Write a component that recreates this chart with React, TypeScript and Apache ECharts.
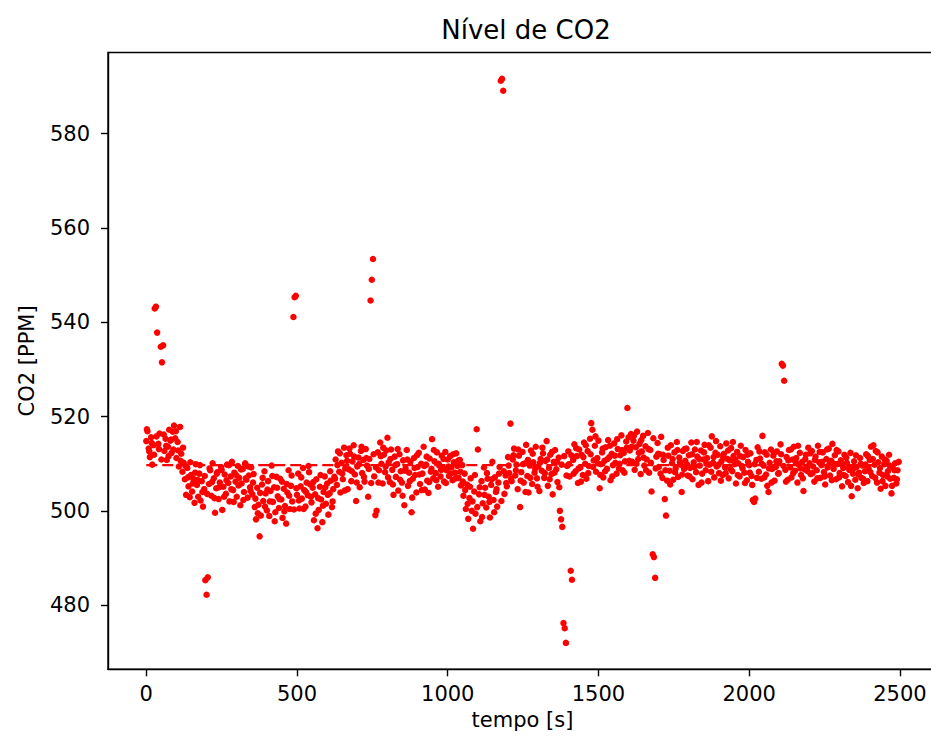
import React, { useEffect, useRef } from "react";
import * as echarts from "echarts";

const chartTitle = "Nível de CO2";
const xAxisTitle = "tempo [s]";
const yAxisTitle = "CO2 [PPM]";
const xTickValues = [0, 500, 1000, 1500, 2000, 2500];
const yTickValues = [480, 500, 520, 540, 560, 580];
const meanLevel = 509.7;
const meanSpan = [0, 2496];

const readings0to496 = [
  [0,514.8],[4,516.9],[8,513.2],[12,511.4],[16,515.6],[20,509.8],[24,513.9],[28,542.9],[32,543.3],[36,537.8],[40,514.2],[44,516.4],[48,534.8],[52,531.5],[56,535.1],[60,512.7],[64,515.3],[68,510.8],[72,513.6],[76,517.2],[80,514.9],[84,512.3],[88,516.8],[92,518.1],[96,515.4],
  [100,511.2],[104,514.6],[108,509.4],[112,517.8],[116,512.1],[120,508.3],[124,510.2],[128,506.7],[132,503.4],[136,509.1],[140,505.2],[144,502.9],[148,507.6],[152,504.1],[156,506.8],[160,501.7],[164,509.9],[168,505.5],[172,503.0],[176,507.9],[180,502.2],[184,506.3],[188,500.9],[192,504.6],[196,485.3],[200,482.2],[204,485.9],[208,505.7],
  [212,508.6],[216,503.2],[220,510.1],[224,506.9],[228,499.6],[232,504.8],[236,508.2],[240,502.5],[244,506.0],[248,509.3],[252,500.2],[256,505.1],[260,507.7],[264,503.6],[268,509.8],[272,505.9],[276,502.0],[280,507.3],[284,510.4],[288,504.4],[292,508.1],[296,506.2],[300,503.0],[304,509.5],[308,507.0],[312,501.2],[316,505.8],[320,508.9],[324,504.0],[328,510.1],[332,506.6],[336,502.8],[340,507.5],[344,505.0],[348,509.2],
  [352,503.5],[356,507.8],[360,500.8],[364,498.2],[368,504.9],[372,501.3],[376,494.6],[380,499.0],[384,505.6],[388,502.1],[392,508.4],[396,503.7],[400,500.1],[404,506.3],[408,498.9],[412,504.2],[416,509.6],[420,501.9],[424,505.0],[428,499.7],[432,507.2],[436,503.1],[440,500.6],[444,506.8],[448,502.4],[452,498.5],[456,504.7],[460,501.0],[464,497.3],[468,503.9],[472,508.6],[476,500.4],[480,505.3],[484,502.0],[488,541.1],[492,545.3],[496,545.6]
];

const readings500to1048 = [
  [500,503.4],[504,507.9],[508,500.5],[512,505.2],[516,502.6],[520,509.1],[524,504.4],[528,500.9],[532,506.0],[536,503.3],[540,508.2],[544,505.6],[548,501.8],[552,504.9],[556,498.0],[560,503.5],[564,506.7],[568,496.3],[572,500.2],[576,505.1],[580,502.4],[584,497.6],[588,504.0],[592,507.3],[596,501.5],[600,505.8],[604,499.2],[608,503.7],[612,506.4],[616,500.8],[620,504.6],
  [624,507.2],[628,510.9],[632,505.5],[636,512.6],[640,508.3],[644,503.9],[648,510.2],[652,506.7],[656,513.4],[660,509.0],[664,511.8],[668,504.6],[672,508.8],[676,512.1],[680,506.3],[684,510.5],[688,513.9],[692,507.7],[696,502.1],[700,509.4],[704,511.3],[708,505.0],[712,512.7],[716,508.0],[720,510.8],[724,506.2],[728,513.1],[732,509.6],[736,503.0],[740,511.0],[744,544.6],[748,549.0],[752,553.4],[756,507.3],[760,499.1],[764,500.0],[768,512.4],[772,508.6],[776,514.5],[780,510.0],[784,505.8],[788,511.9],[792,508.2],[796,512.8],[800,515.5],
  [804,510.3],[808,506.1],[812,513.0],[816,508.7],[820,503.4],[824,511.5],[828,507.2],[832,509.9],[836,504.3],[840,512.0],[844,508.4],[848,506.0],[852,510.7],[856,501.2],[860,509.0],[864,512.9],[868,505.3],[872,508.1],[876,510.4],[880,499.7],[884,506.8],[888,511.2],[892,507.6],[896,503.9],[900,509.3],[904,512.3],[908,505.7],[912,510.0],[916,507.9],[920,513.6],[924,504.5],[928,509.8],[932,506.4],[936,503.8],[940,511.1],[944,508.3],[948,515.2],[952,506.9],[956,510.5],[960,508.0],[964,512.4],[968,505.1],[972,509.6],[976,507.3],[980,511.7],[984,509.0],[988,506.2],[992,512.5],[996,508.6],
  [1000,510.9],[1004,507.4],[1008,511.6],[1012,509.2],[1016,506.5],[1020,510.3],[1024,508.1],[1028,512.2],[1032,509.5],[1036,507.0],[1040,510.8],[1044,505.4],[1048,509.7]
];

const readings1052to1596 = [
  [1052,503.2],[1056,507.9],[1060,500.4],[1064,505.6],[1068,498.3],[1072,502.7],[1076,506.9],[1080,500.0],[1084,496.2],[1088,504.1],[1092,499.4],[1096,517.3],[1100,513.0],[1104,503.5],[1108,497.8],[1112,506.3],[1116,501.6],[1120,509.2],[1124,504.9],[1128,500.7],[1132,506.8],[1136,503.0],[1140,498.6],[1144,505.5],[1148,510.4],[1152,502.3],[1156,507.1],[1160,504.0],[1164,500.9],[1168,506.0],[1172,509.3],[1176,591.2],[1180,591.6],[1184,589.1],[1188,503.6],[1192,507.5],[1196,505.2],
  [1200,511.4],[1204,508.0],[1208,518.5],[1212,506.3],[1216,510.9],[1220,513.2],[1224,507.5],[1228,509.8],[1232,504.6],[1236,511.7],[1240,500.8],[1244,508.2],[1248,512.5],[1252,506.0],[1256,510.1],[1260,514.0],[1264,507.4],[1268,503.9],[1272,509.6],[1276,512.8],[1280,505.7],[1284,510.3],[1288,508.1],[1292,513.6],[1296,506.9],[1300,509.4],[1304,504.2],[1308,511.0],[1312,508.5],[1316,512.2],[1320,507.0],[1324,510.6],[1328,514.8],[1332,505.3],[1336,509.1],[1340,511.9],[1344,507.8],[1348,503.5],[1352,510.4],[1356,512.9],[1360,508.8],[1364,506.1],[1368,511.3],[1372,500.0],[1376,498.2],[1380,496.6],[1384,476.2],[1388,475.1],[1392,472.0],[1396,509.5],
  [1400,512.6],[1404,507.3],[1408,487.3],[1412,485.4],[1416,510.8],[1420,514.1],[1424,508.4],[1428,511.6],[1432,505.9],[1436,513.0],[1440,509.2],[1444,511.9],[1448,507.6],[1452,514.5],[1456,510.0],[1460,506.8],[1464,512.7],[1468,509.5],[1472,515.3],[1476,518.6],[1480,517.2],[1484,510.7],[1488,513.8],[1492,508.3],[1496,511.2],[1500,514.9],[1504,504.8],[1508,509.9],[1512,512.4],[1516,507.1],[1520,510.6],[1524,513.5],[1528,508.9],[1532,515.0],[1536,511.4],[1540,506.5],[1544,512.1],[1548,509.7],[1552,514.3],[1556,510.2],[1560,507.9],[1564,513.1],[1568,509.0],[1572,511.8],[1576,516.0],[1580,508.6],[1584,512.3],[1588,510.5],[1592,514.7],[1596,521.8]
];

const readings1600to1996 = [
  [1600,515.6],[1604,512.8],[1608,516.3],[1612,510.4],[1616,514.9],[1620,508.7],[1624,513.5],[1628,516.8],[1632,511.0],[1636,514.2],[1640,507.8],[1644,512.6],[1648,515.9],[1652,509.6],[1656,513.7],[1660,510.9],[1664,516.5],[1668,508.1],[1672,512.9],[1676,504.1],[1680,490.8],[1684,490.2],[1688,485.8],[1692,511.5],[1696,514.4],
  [1700,509.3],[1704,512.0],[1708,515.7],[1712,507.0],[1716,510.8],[1720,502.5],[1724,499.0],[1728,506.4],[1732,511.7],[1736,508.5],[1740,513.9],[1744,510.1],[1748,506.6],[1752,512.4],[1756,509.0],[1760,514.6],[1764,507.2],[1768,511.3],[1772,509.8],[1776,504.0],[1780,512.7],[1784,508.9],[1788,510.6],[1792,513.2],[1796,507.5],
  [1800,511.8],[1804,509.1],[1808,514.5],[1812,506.7],[1816,510.3],[1820,513.0],[1824,508.2],[1828,511.5],[1832,505.5],[1836,509.6],[1840,512.8],[1844,507.9],[1848,510.9],[1852,514.0],[1856,508.6],[1860,511.2],[1864,506.3],[1868,509.8],[1872,513.4],[1876,515.8],[1880,510.2],[1884,507.1],[1888,512.3],[1892,509.4],[1896,511.9],
  [1900,508.0],[1904,513.7],[1908,510.5],[1912,507.6],[1916,512.1],[1920,509.2],[1924,514.3],[1928,511.0],[1932,506.9],[1936,510.7],[1940,513.3],[1944,508.4],[1948,511.6],[1952,509.9],[1956,505.8],[1960,512.5],[1964,510.1],[1968,507.3],[1972,513.8],[1976,509.5],[1980,511.4],[1984,508.1],[1988,512.9],[1992,506.5],[1996,510.4]
];

const readings2000to2496 = [
  [2000,509.7],[2004,512.2],[2008,507.4],[2012,502.3],[2016,501.9],[2020,502.6],[2024,510.8],[2028,513.5],[2032,508.3],[2036,511.1],[2040,506.8],[2044,515.9],[2048,509.6],[2052,512.4],[2056,507.7],[2060,505.3],[2064,504.0],[2068,510.2],[2072,513.0],[2076,508.9],[2080,511.7],[2084,506.4],[2088,509.3],[2092,512.6],[2096,507.9],
  [2100,510.5],[2104,514.1],[2108,531.2],[2112,530.8],[2116,527.6],[2120,508.7],[2124,511.4],[2128,506.6],[2132,512.9],[2136,509.2],[2140,507.1],[2144,510.9],[2148,513.6],[2152,508.5],[2156,511.2],[2160,506.0],[2164,509.8],[2168,512.3],[2172,507.6],[2176,510.4],[2180,504.2],[2184,508.8],[2188,511.9],[2192,509.1],[2196,513.4],
  [2200,510.1],[2204,507.8],[2208,512.7],[2212,509.4],[2216,506.2],[2220,511.5],[2224,508.6],[2228,513.8],[2232,510.3],[2236,507.0],[2240,509.7],[2244,512.4],[2248,508.2],[2252,505.6],[2256,511.0],[2260,509.2],[2264,513.2],[2268,507.5],[2272,510.6],[2276,514.2],[2280,508.9],[2284,511.8],[2288,506.7],[2292,509.9],[2296,512.6],
  [2300,508.0],[2304,510.7],[2308,505.2],[2312,509.1],[2316,511.9],[2320,507.4],[2324,510.2],[2328,506.1],[2332,508.7],[2336,512.3],[2340,503.1],[2344,507.9],[2348,510.5],[2352,506.6],[2356,509.3],[2360,504.8],[2364,508.1],[2368,511.2],[2372,507.0],[2376,509.6],[2380,505.9],[2384,508.4],[2388,512.0],[2392,506.3],[2396,509.0],
  [2400,510.8],[2404,513.6],[2408,507.4],[2412,513.9],[2416,509.8],[2420,512.7],[2424,506.0],[2428,510.3],[2432,508.1],[2436,504.7],[2440,511.5],[2444,507.6],[2448,509.9],[2452,505.3],[2456,510.6],[2460,508.4],[2464,511.9],[2468,506.8],[2472,503.7],[2476,509.2],[2480,507.0],[2484,510.1],[2488,505.8],[2492,508.6],[2496,510.4]
];

const extraReadingsFirstHalf = [
  [2,517.3],[10,512.6],[18,514.4],[26,511.9],[34,515.8],[42,513.1],[50,510.9],[58,516.2],[66,513.8],[74,511.6],[82,515.1],[90,513.0],[98,516.9],
  [106,512.8],[114,510.6],[122,513.4],[130,509.5],[138,507.1],[146,510.3],[154,505.8],[162,508.1],[170,506.6],[178,509.7],[186,504.0],[194,507.4],
  [202,503.6],[210,509.0],[218,506.1],[226,502.7],[234,507.9],[242,505.0],[250,508.7],[258,503.0],[266,506.5],[274,509.7],[282,504.6],[290,501.9],[298,507.6],[306,505.4],[314,508.8],[322,502.3],[330,506.9],[338,509.4],[346,504.2],
  [354,506.0],[362,502.6],[370,499.5],[378,503.8],[386,507.0],[394,500.9],[402,504.5],[410,502.0],[418,507.4],[426,497.8],[434,504.9],[442,502.5],[450,506.2],[458,499.9],[466,505.7],[474,503.2],[482,507.5],[490,500.3],[498,504.8],
  [506,502.2],[514,507.1],[522,500.4],[530,504.0],[538,509.5],[546,503.0],[554,506.1],[562,499.4],[570,502.7],[578,507.6],[586,501.1],[594,505.0],[602,503.4],[610,508.4],[618,502.0],
  [626,506.8],[634,509.7],[642,512.2],[650,507.9],[658,504.3],[666,510.6],[674,513.2],[682,508.4],[690,511.5],[698,506.0],[706,509.9],[714,513.6],[722,507.2],[730,511.2],[738,508.9],[746,505.9],[754,512.0],[762,509.2],[770,506.0],[778,511.6],[786,513.4],[794,509.4],
  [802,507.1],[810,511.0],[818,505.6],[826,509.7],[834,513.1],[842,506.6],[850,503.2],[858,508.5],[866,510.9],[874,506.3],[882,502.8],[890,509.1],[898,511.8],[906,507.7],[914,504.4],[922,509.5],[930,511.5],[938,506.1],[946,508.9],[954,512.9],[962,506.5],[970,510.0],[978,508.7],[986,511.0],[994,505.9],
  [1002,509.4],[1010,507.9],[1018,512.0],[1026,506.9],[1034,510.6],[1042,508.3],[1050,506.2],
  [1058,504.4],[1066,501.5],[1074,505.1],[1082,502.0],[1090,507.6],[1098,500.8],[1106,505.0],[1114,498.7],[1122,503.4],[1130,508.0],[1138,501.9],[1146,506.7],[1154,499.7],[1162,504.6],[1170,507.9],[1178,502.1],[1186,508.4],[1194,505.9]
];

const extraReadingsSecondHalf = [
  [1202,509.6],[1210,506.8],[1218,511.8],[1226,508.6],[1234,513.0],[1242,506.4],[1250,509.9],[1258,504.0],[1266,510.8],[1274,507.0],[1282,512.1],[1290,509.0],[1298,505.1],[1306,510.2],[1314,513.4],[1322,508.0],[1330,510.9],[1338,506.7],[1346,512.5],[1354,508.1],[1362,510.4],[1370,505.0],[1378,509.8],[1386,511.6],[1394,507.5],
  [1402,509.9],[1410,511.8],[1418,507.9],[1426,513.3],[1434,509.0],[1442,506.2],[1450,511.4],[1458,513.9],[1466,508.0],[1474,512.0],[1482,509.3],[1490,515.8],[1498,510.1],[1506,507.6],[1514,513.2],[1522,508.4],[1530,511.0],[1538,513.8],[1546,507.3],[1554,511.7],[1562,515.2],[1570,510.0],[1578,512.9],[1586,508.1],[1594,513.4],
  [1602,510.6],[1610,513.6],[1618,516.0],[1626,510.0],[1634,512.3],[1642,515.0],[1650,511.3],[1658,508.6],[1666,513.1],[1674,510.2],[1682,515.4],[1690,509.0],[1698,512.1],
  [1706,507.9],[1714,511.9],[1722,508.6],[1730,513.4],[1738,505.6],[1746,511.0],[1754,508.2],[1762,512.9],[1770,510.3],[1778,507.7],[1786,513.1],[1794,509.8],
  [1802,507.3],[1810,512.0],[1818,509.3],[1826,514.6],[1834,511.0],[1842,506.0],[1850,512.4],[1858,510.0],[1866,513.9],[1874,508.3],[1882,511.4],[1890,514.8],[1898,509.8],
  [1906,506.4],[1914,511.3],[1922,508.0],[1930,512.8],[1938,508.9],[1946,514.6],[1954,510.8],[1962,507.6],[1970,511.6],[1978,509.0],[1986,505.9],[1994,511.9],
  [2002,508.1],[2010,505.5],[2018,509.9],[2026,507.0],[2034,512.6],[2042,510.0],[2050,507.1],[2058,511.9],[2066,509.0],[2074,506.0],[2082,512.3],[2090,510.5],[2098,508.0],
  [2106,512.0],[2114,509.5],[2122,506.2],[2130,510.7],[2138,513.0],[2146,508.0],[2154,510.4],[2162,513.8],[2170,509.0],[2178,506.9],[2186,511.0],[2194,508.4],
  [2202,512.2],[2210,508.0],[2218,510.8],[2226,506.9],[2234,512.5],[2242,510.4],[2250,507.3],[2258,513.0],[2266,509.9],[2274,506.5],[2282,510.0],[2290,512.9],[2298,507.1],
  [2306,509.9],[2314,507.6],[2322,511.3],[2330,509.4],[2338,505.3],[2346,509.0],[2354,511.8],[2362,507.7],[2370,510.0],[2378,506.8],[2386,509.8],[2394,511.6],
  [2402,508.2],[2410,511.0],[2418,507.0],[2426,512.4],[2434,509.1],[2442,506.3],[2450,510.9],[2458,507.3],[2466,509.6],[2474,505.3],[2482,508.6],[2490,506.7]
];

const FONT = "DejaVu Sans";

export default function App() {
  const ref = useRef<HTMLDivElement>(null);
  useEffect(() => {
    if (!ref.current) return;
    const chart = echarts.init(ref.current, null, { renderer: "svg" });
    const points = [
      ...readings0to496,
      ...readings500to1048,
      ...readings1052to1596,
      ...readings1600to1996,
      ...readings2000to2496,
      ...extraReadingsFirstHalf,
      ...extraReadingsSecondHalf,
    ];
    const plain = (v: number) => String(v);
    const tickFont = { fontFamily: FONT, fontSize: 21, color: "#000" };
    chart.setOption({
      animation: false,
      backgroundColor: "#fff",
      title: {
        text: chartTitle,
        left: 521,
        textAlign: "center",
        top: 12,
        textStyle: { fontFamily: FONT, fontSize: 26, fontWeight: "normal", color: "#000" },
      },
      grid: {
        left: 108,
        right: 8,
        top: 52.5,
        bottom: 70.7,
        show: true,
        borderColor: "#000",
        borderWidth: 1.4,
        backgroundColor: "transparent",
      },
      xAxis: {
        type: "value",
        min: -127,
        max: 2623,
        name: xAxisTitle,
        nameLocation: "middle",
        nameGap: 40,
        nameTextStyle: { fontFamily: FONT, fontSize: 21, color: "#000" },
        axisLine: { show: true, onZero: false, lineStyle: { color: "#000", width: 1.4 } },
        axisTick: { show: true, length: 7, inside: false, customValues: xTickValues, lineStyle: { color: "#000", width: 1.4 } },
        axisLabel: { ...tickFont, margin: 14, customValues: xTickValues, formatter: plain },
        splitLine: { show: false },
      },
      yAxis: {
        type: "value",
        min: 466.4,
        max: 597.2,
        name: yAxisTitle,
        nameLocation: "middle",
        nameRotate: 90,
        nameGap: 71,
        nameTextStyle: { fontFamily: FONT, fontSize: 21, color: "#000" },
        axisLine: { show: true, onZero: false, lineStyle: { color: "#000", width: 1.4 } },
        axisTick: { show: true, length: 7, inside: false, customValues: yTickValues, lineStyle: { color: "#000", width: 1.4 } },
        axisLabel: { ...tickFont, margin: 18, customValues: yTickValues, formatter: plain },
        splitLine: { show: false },
      },
      series: [
        {
          type: "scatter",
          data: points,
          symbol: "circle",
          symbolSize: 6.5,
          itemStyle: { color: "#ff0000", opacity: 1 },
          silent: true,
          z: 2,
        },
        {
          type: "line",
          data: [
            [meanSpan[0], meanLevel],
            [meanSpan[1], meanLevel],
          ],
          symbol: "none",
          lineStyle: { color: "#ff0000", width: 2.2, type: [11, 5] },
          silent: true,
          z: 3,
        },
      ],
    });
    return () => chart.dispose();
  }, []);
  return (
    <div style={{ position: "absolute", left: 0, top: 0, width: 931, height: 740, overflow: "hidden", background: "#fff" }}>
      <div ref={ref} style={{ width: 945, height: 740 }} />
    </div>
  );
}
